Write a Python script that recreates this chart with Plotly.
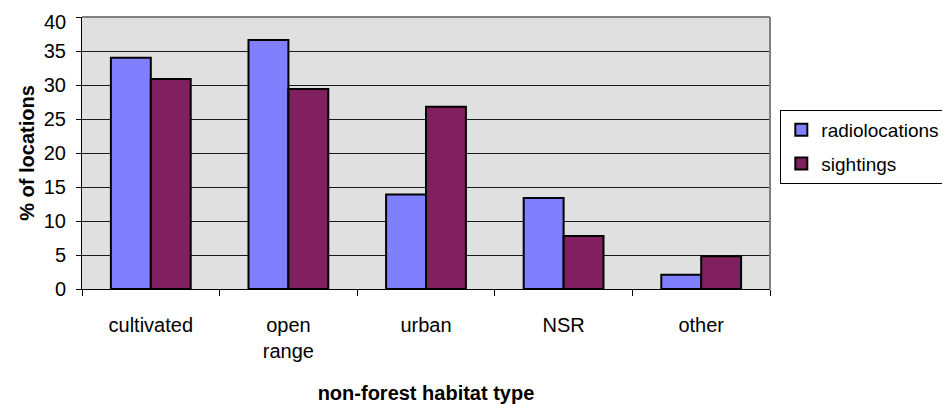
import plotly.graph_objects as go

categories = ["cultivated", "open<br>range", "urban", "NSR", "other"]
radiolocations = [34.0, 36.6, 13.9, 13.4, 2.1]
sightings = [30.9, 29.4, 26.8, 7.8, 4.8]
y_ticks = [0, 5, 10, 15, 20, 25, 30, 35, 40]
y_tick_text = ["0", "5", "10", "15", "20", "25", "30", "35", ""]  # top label drawn below, nudged down as in the reference
top_tick_label = "40"

FONT = "Liberation Sans, Arial, sans-serif"
FS = 20

fig = go.Figure()
fig.add_trace(go.Bar(
    x=categories, y=radiolocations, name="radiolocations",
    marker=dict(color="#8080FF", line=dict(color="#000000", width=2)),
    legendgroup="a",
))
fig.add_trace(go.Bar(
    x=categories, y=sightings, name="sightings",
    marker=dict(color="#80205F", line=dict(color="#000000", width=2)),
    legendgroup="b",
))

# gray border on top and right of plot area
fig.add_shape(type="line", xref="x domain", yref="y domain", x0=0, x1=1, y0=1, y1=1,
              line=dict(color="#808080", width=2))
fig.add_shape(type="line", xref="x domain", yref="y domain", x0=1, x1=1, y0=0, y1=1,
              line=dict(color="#808080", width=2))

# top y tick label, kept inside the page like the reference does
fig.add_annotation(
    x=0, xref="x domain", y=y_ticks[-1], yref="y",
    text=top_tick_label, showarrow=False,
    xanchor="right", yanchor="middle", xshift=-14, yshift=-5,
    font=dict(family=FONT, size=FS, color="#000000"),
)

# page body has an 8px margin, so the figure is sized to fill the rest of the window
fig.update_layout(
    width=942, height=396,
    margin=dict(l=74, r=180, t=9, b=115, autoexpand=False),
    paper_bgcolor="white",
    plot_bgcolor="#E0E0E0",
    barmode="group",
    bargap=0.42,
    bargroupgap=0,
    font=dict(family=FONT, size=FS, color="#000000"),
    showlegend=True,
    legend=dict(
        x=1.015, xanchor="left", y=0.658, yanchor="top",
        bordercolor="#000000", borderwidth=1, bgcolor="white",
        font=dict(family=FONT, size=19),
        traceorder="grouped", tracegroupgap=6,
        itemwidth=30,
    ),
    xaxis=dict(
        type="category",
        automargin=False,
        showline=True, linecolor="#000000", linewidth=1,
        ticks="outside", tickson="boundaries", ticklen=6, tickcolor="#000000", tickwidth=1,
        showgrid=False,
        ticklabelstandoff=18,
        title=dict(text="<b>non-forest habitat type</b>", font=dict(family=FONT, size=FS), standoff=26),
        fixedrange=True,
    ),
    yaxis=dict(
        range=[0, 40],
        automargin=False,
        tickmode="array",
        tickvals=y_ticks,
        ticktext=y_tick_text,
        showline=True, linecolor="#000000", linewidth=1,
        ticks="outside", ticklen=5, tickcolor="#000000", tickwidth=1,
        showgrid=True, gridcolor="#1a1a1a", gridwidth=1,
        zeroline=False,
        ticklabelstandoff=6,
        title=dict(text="<b>% of locations</b>", font=dict(family=FONT, size=FS), standoff=3),
        fixedrange=True,
    ),
)

fig.write_html("out.html")
